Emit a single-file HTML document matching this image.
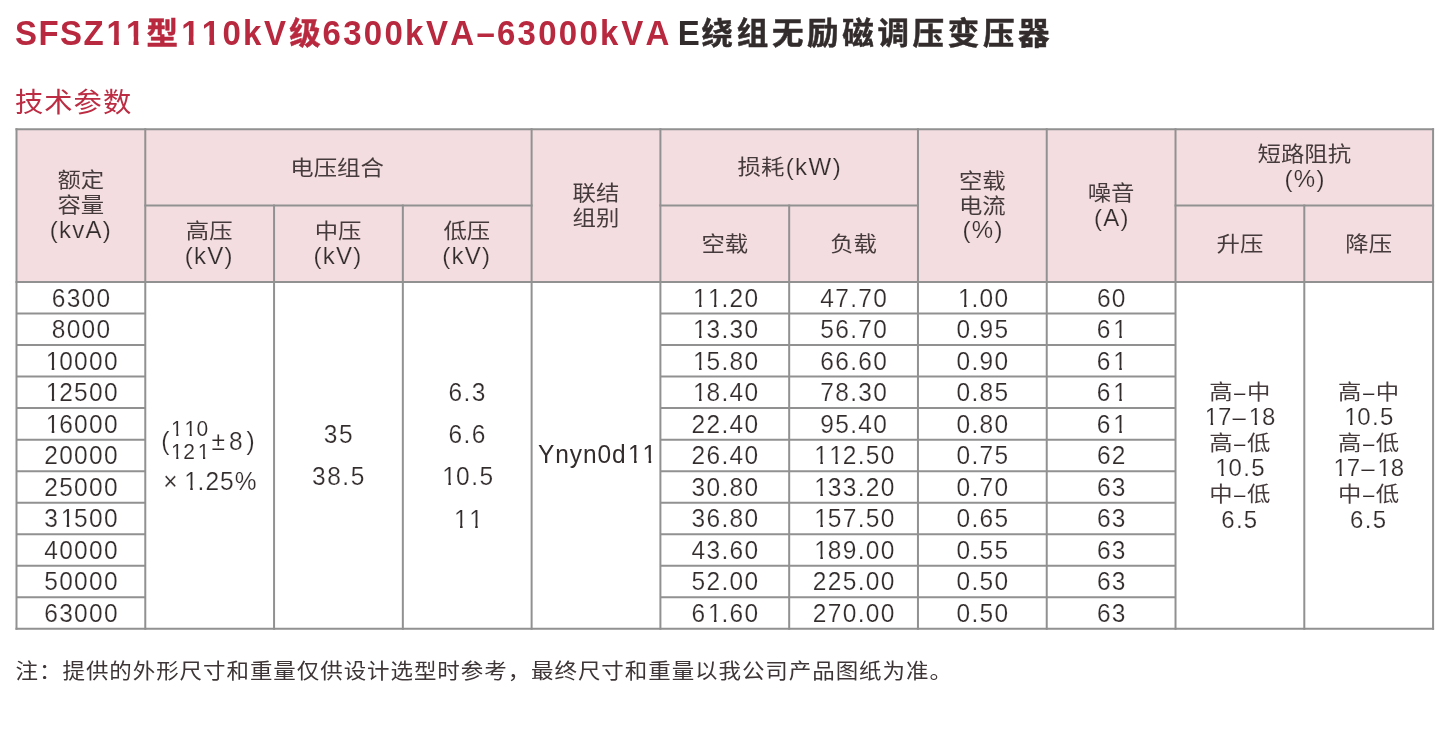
<!DOCTYPE html>
<html lang="zh-CN">
<head>
<meta charset="utf-8">
<title>SFSZ11型110kV级6300kVA–63000kVA E绕组无励磁调压变压器 技术参数</title>
<style>
*{margin:0;padding:0;box-sizing:border-box}
html,body{width:1452px;height:748px;background:#fff;overflow:hidden}
body{font-family:"Liberation Sans","Noto Sans CJK SC",sans-serif;color:#332c2d;-webkit-font-smoothing:antialiased;font-kerning:none;font-variant-ligatures:none}
#page{position:relative;width:1452px;height:748px;overflow:hidden;background:#fff}
.l,.z{display:inline-block;white-space:nowrap}
.ln{display:block;height:25px;line-height:25px;white-space:nowrap}
.title{position:absolute;left:16px;top:13px;white-space:nowrap;font-weight:700;font-size:33px;line-height:40px}
.title{color:#b8283e}
.title .l{transform:scaleY(1.06);transform-origin:50% 70%;position:relative;top:0.6px}
.title .z{font-size:31.5px;transform:scaleY(0.975);-webkit-text-stroke:0.5px currentColor}
.title .k{color:#332c2c}
.sub{position:absolute;left:15px;top:84.2px;white-space:nowrap;font-weight:400;font-size:28.3px;line-height:36px;color:#bc2c43;letter-spacing:1px}
.sub .z{transform:scaleY(0.975)}
.grid{position:absolute;left:0;top:0}
.tbl{position:absolute;left:0;top:0;width:1452px;height:748px}
.c{position:absolute;display:flex;align-items:center;justify-content:center;text-align:center;white-space:nowrap;font-weight:400;font-size:23.4px;line-height:25px}
.c .z{transform:scaleY(0.895);position:relative;top:0.8px;color:#463b3c}
.c .l{font-weight:400;font-size:24px;letter-spacing:1.3px;position:relative;top:-0.9px;transform:scaleY(1.02);transform-origin:50% 83%}
.c.he .z{top:-0.7px}
.c.ha .z{top:0.2px}
.c.hb .z{top:1.0px}
.c.hc .z{top:-0.2px}
.c.he .l{top:-1.0px;margin-left:1.3px;letter-spacing:1.45px}
.c.he>div{position:relative;left:0.7px}
.c.n .l,.c.m1 .l,.c.m2 .l,.c.m3 .l,.c.m4 .l{font-size:24.5px;letter-spacing:1.5px}
.c.n .l{letter-spacing:1.3px}
.note{position:absolute;left:15.6px;top:653.6px;white-space:nowrap;font-weight:400;font-size:22.5px;line-height:34px;letter-spacing:0.93px;color:#3d3536}
.fr{display:inline-flex;align-items:center}
.stk{display:inline-flex;flex-direction:column;position:relative;top:-2.3px;left:-1.6px;margin:0}
.c.m1 .stk .l{font-size:21px;letter-spacing:1.7px;line-height:23.5px;height:23.3px;display:block;transform:scaleY(1.05);top:0;-webkit-text-stroke:0.1px #fff}
.c.m1 .par{left:-0.5px}
.c.m1 .pm{left:0px;letter-spacing:3.9px}
.c.m1 .x125{top:3.3px;left:0.4px;letter-spacing:1.1px}
.c.m1 .x{margin-right:4px}
.c.m1>div{position:relative;left:0.5px}
.c.m2 .ln{height:42px;line-height:42px}
.c.m2 .l,.c.m3 .l,.c.m4 .l{top:1.1px;left:0.5px}
.c.m3 .ln{height:42.3px;line-height:42.3px}
.c.h .l{-webkit-text-stroke:0.2px #f3dde0}
.c.n .l,.c.m1 .l,.c.m2 .l,.c.m3 .l,.c.m4 .l,.c.m5 .l{-webkit-text-stroke:0.2px #fff}
.c.n .l{top:0.8px;left:0.7px}
.c.hg .l,.c.hj .l,.c.hi .l{left:0.8px}
.c.m4 .l{top:-1.1px;left:0.9px;letter-spacing:0.9px;-webkit-text-stroke:0}
.c.m5 .ln{height:25.55px;line-height:25.55px}
.c.m5 .z+.l{letter-spacing:0;margin:0 0.4px 0 0.6px}
.c.m5 .z+.l .d{display:inline-block;transform:scaleX(0.85)}
.c.m1 .ln{height:46px;line-height:46px}
.c.m1 .ln+.ln{height:26px;line-height:26px}
.c.m5 .z{top:0.3px}
.c.m5 .l{top:0.1px}
.note .z{transform:scaleY(0.93)}
.note .co{position:relative;top:1.4px}
.o{display:inline-block;line-height:1;clip-path:polygon(0 0,100% 0,100% 0.6em,0.35em 0.6em,0.35em 1.1em,0.245em 1.1em,0.245em 0.6em,0 0.6em)}
.title .o{clip-path:polygon(0 0,100% 0,100% 0.6em,0.38em 0.6em,0.38em 1.1em,0.225em 1.1em,0.225em 0.6em,0 0.6em)}
.c .o{position:relative;left:0.06em}

</style>
</head>
<body>
<div id="page">
<h1 class="title"><span class="l" style="margin-left:-0.90px;letter-spacing:1.4px">SFSZ</span><span class="l" style="margin-left:1.35px;letter-spacing:1.3px"><span class="o">1</span><span class="o">1</span></span><span class="z" style="margin-left:0.85px">型</span><span class="l" style="margin-left:3.16px;letter-spacing:2.25px"><span class="o">1</span><span class="o">1</span>0k</span><span class="l" style="margin-left:0.40px">V</span><span class="z" style="margin-left:3.20px">级</span><span class="l" style="margin-left:1.85px;letter-spacing:2.25px">6300k</span><span class="l" style="margin-left:0.45px;letter-spacing:2.25px">VA–</span><span class="l" style="margin-left:-0.00px;letter-spacing:2.25px">63000k</span><span class="l" style="margin-left:0.50px;letter-spacing:2.25px">VA</span><span class="l k" style="margin-left:6.25px">E</span><span class="z k" style="margin-left:1.80px;letter-spacing:3.67px">绕组无励磁调压变压器</span></h1>
<h2 class="sub"><span class="z">技术参数</span></h2>
<svg class="grid" width="1452" height="748" viewBox="0 0 1452 748" aria-hidden="true">
<rect x="16.5" y="129.2" width="1416.58" height="152.80" fill="#f3dde0"/>
<g stroke="#919191" stroke-width="2.0" stroke-linecap="square" fill="none">
<line x1="16.50" y1="129.20" x2="1433.08" y2="129.20"/>
<line x1="16.50" y1="628.80" x2="1433.08" y2="628.80"/>
<line x1="16.50" y1="282.00" x2="1433.08" y2="282.00"/>
<line x1="16.50" y1="129.20" x2="16.50" y2="628.80"/>
<line x1="145.28" y1="129.20" x2="145.28" y2="628.80"/>
<line x1="274.06" y1="205.60" x2="274.06" y2="628.80"/>
<line x1="402.84" y1="205.60" x2="402.84" y2="628.80"/>
<line x1="531.62" y1="129.20" x2="531.62" y2="628.80"/>
<line x1="660.40" y1="129.20" x2="660.40" y2="628.80"/>
<line x1="789.18" y1="205.60" x2="789.18" y2="628.80"/>
<line x1="917.96" y1="129.20" x2="917.96" y2="628.80"/>
<line x1="1046.74" y1="129.20" x2="1046.74" y2="628.80"/>
<line x1="1175.52" y1="129.20" x2="1175.52" y2="628.80"/>
<line x1="1304.30" y1="205.60" x2="1304.30" y2="628.80"/>
<line x1="1433.08" y1="129.20" x2="1433.08" y2="628.80"/>
<line x1="145.28" y1="205.60" x2="531.62" y2="205.60"/>
<line x1="660.40" y1="205.60" x2="917.96" y2="205.60"/>
<line x1="1175.52" y1="205.60" x2="1433.08" y2="205.60"/>
</g>
<g stroke="#919191" stroke-width="2.0" fill="none">
<line x1="16.50" y1="313.53" x2="145.28" y2="313.53"/>
<line x1="660.40" y1="313.53" x2="1175.52" y2="313.53"/>
<line x1="16.50" y1="345.05" x2="145.28" y2="345.05"/>
<line x1="660.40" y1="345.05" x2="1175.52" y2="345.05"/>
<line x1="16.50" y1="376.58" x2="145.28" y2="376.58"/>
<line x1="660.40" y1="376.58" x2="1175.52" y2="376.58"/>
<line x1="16.50" y1="408.11" x2="145.28" y2="408.11"/>
<line x1="660.40" y1="408.11" x2="1175.52" y2="408.11"/>
<line x1="16.50" y1="439.64" x2="145.28" y2="439.64"/>
<line x1="660.40" y1="439.64" x2="1175.52" y2="439.64"/>
<line x1="16.50" y1="471.16" x2="145.28" y2="471.16"/>
<line x1="660.40" y1="471.16" x2="1175.52" y2="471.16"/>
<line x1="16.50" y1="502.69" x2="145.28" y2="502.69"/>
<line x1="660.40" y1="502.69" x2="1175.52" y2="502.69"/>
<line x1="16.50" y1="534.22" x2="145.28" y2="534.22"/>
<line x1="660.40" y1="534.22" x2="1175.52" y2="534.22"/>
<line x1="16.50" y1="565.75" x2="145.28" y2="565.75"/>
<line x1="660.40" y1="565.75" x2="1175.52" y2="565.75"/>
<line x1="16.50" y1="597.27" x2="145.28" y2="597.27"/>
<line x1="660.40" y1="597.27" x2="1175.52" y2="597.27"/>
</g>
</svg>
<div class="tbl">
<div class="c h ha" style="left:16.50px;top:129.20px;width:128.78px;height:152.80px"><div><span class="ln"><span class="z">额定</span></span><span class="ln"><span class="z">容量</span></span><span class="ln"><span class="l">(kvA)</span></span></div></div>
<div class="c h hb" style="left:143.98px;top:129.20px;width:386.34px;height:76.40px"><div><span class="ln"><span class="z">电压组合</span></span></div></div>
<div class="c h hc" style="left:144.88px;top:205.60px;width:128.78px;height:76.40px"><div><span class="ln"><span class="z">高压</span></span><span class="ln"><span class="l">(kV)</span></span></div></div>
<div class="c h hc" style="left:273.66px;top:205.60px;width:128.78px;height:76.40px"><div><span class="ln"><span class="z">中压</span></span><span class="ln"><span class="l">(kV)</span></span></div></div>
<div class="c h hc" style="left:402.44px;top:205.60px;width:128.78px;height:76.40px"><div><span class="ln"><span class="z">低压</span></span><span class="ln"><span class="l">(kV)</span></span></div></div>
<div class="c h hd" style="left:531.62px;top:129.20px;width:128.78px;height:152.80px"><div><span class="ln"><span class="z">联结</span></span><span class="ln"><span class="z">组别</span></span></div></div>
<div class="c h he" style="left:660.40px;top:129.20px;width:257.56px;height:76.40px"><div><span class="ln"><span class="z">损耗</span><span class="l">(kW)</span></span></div></div>
<div class="c h hf" style="left:660.40px;top:205.60px;width:128.78px;height:76.40px"><div><span class="ln"><span class="z">空载</span></span></div></div>
<div class="c h hf" style="left:789.18px;top:205.60px;width:128.78px;height:76.40px"><div><span class="ln"><span class="z">负载</span></span></div></div>
<div class="c h hg" style="left:917.96px;top:129.20px;width:128.78px;height:152.80px"><div><span class="ln"><span class="z">空载</span></span><span class="ln"><span class="z">电流</span></span><span class="ln"><span class="l">(%)</span></span></div></div>
<div class="c h hi" style="left:1046.74px;top:129.20px;width:128.78px;height:152.80px"><div><span class="ln"><span class="z">噪音</span></span><span class="ln"><span class="l">(A)</span></span></div></div>
<div class="c h hj" style="left:1175.52px;top:128.40px;width:257.56px;height:76.40px"><div><span class="ln"><span class="z">短路阻抗</span></span><span class="ln"><span class="l">(%)</span></span></div></div>
<div class="c h hf" style="left:1175.52px;top:205.60px;width:128.78px;height:76.40px"><div><span class="ln"><span class="z">升压</span></span></div></div>
<div class="c h hf" style="left:1304.30px;top:205.60px;width:128.78px;height:76.40px"><div><span class="ln"><span class="z">降压</span></span></div></div>
<div class="c n" style="left:16.50px;top:282.00px;width:128.78px;height:31.53px"><div><span class="l">6300</span></div></div>
<div class="c n" style="left:660.40px;top:282.00px;width:128.78px;height:31.53px"><div><span class="l"><span class="o">1</span><span class="o">1</span>.20</span></div></div>
<div class="c n" style="left:789.18px;top:282.00px;width:128.78px;height:31.53px"><div><span class="l">47.70</span></div></div>
<div class="c n" style="left:917.96px;top:282.00px;width:128.78px;height:31.53px"><div><span class="l"><span class="o">1</span>.00</span></div></div>
<div class="c n" style="left:1046.74px;top:282.00px;width:128.78px;height:31.53px"><div><span class="l">60</span></div></div>
<div class="c n" style="left:16.50px;top:313.53px;width:128.78px;height:31.53px"><div><span class="l">8000</span></div></div>
<div class="c n" style="left:660.40px;top:313.53px;width:128.78px;height:31.53px"><div><span class="l"><span class="o">1</span>3.30</span></div></div>
<div class="c n" style="left:789.18px;top:313.53px;width:128.78px;height:31.53px"><div><span class="l">56.70</span></div></div>
<div class="c n" style="left:917.96px;top:313.53px;width:128.78px;height:31.53px"><div><span class="l">0.95</span></div></div>
<div class="c n" style="left:1046.74px;top:313.53px;width:128.78px;height:31.53px"><div><span class="l">6<span class="o">1</span></span></div></div>
<div class="c n" style="left:16.50px;top:345.05px;width:128.78px;height:31.53px"><div><span class="l"><span class="o">1</span>0000</span></div></div>
<div class="c n" style="left:660.40px;top:345.05px;width:128.78px;height:31.53px"><div><span class="l"><span class="o">1</span>5.80</span></div></div>
<div class="c n" style="left:789.18px;top:345.05px;width:128.78px;height:31.53px"><div><span class="l">66.60</span></div></div>
<div class="c n" style="left:917.96px;top:345.05px;width:128.78px;height:31.53px"><div><span class="l">0.90</span></div></div>
<div class="c n" style="left:1046.74px;top:345.05px;width:128.78px;height:31.53px"><div><span class="l">6<span class="o">1</span></span></div></div>
<div class="c n" style="left:16.50px;top:376.58px;width:128.78px;height:31.53px"><div><span class="l"><span class="o">1</span>2500</span></div></div>
<div class="c n" style="left:660.40px;top:376.58px;width:128.78px;height:31.53px"><div><span class="l"><span class="o">1</span>8.40</span></div></div>
<div class="c n" style="left:789.18px;top:376.58px;width:128.78px;height:31.53px"><div><span class="l">78.30</span></div></div>
<div class="c n" style="left:917.96px;top:376.58px;width:128.78px;height:31.53px"><div><span class="l">0.85</span></div></div>
<div class="c n" style="left:1046.74px;top:376.58px;width:128.78px;height:31.53px"><div><span class="l">6<span class="o">1</span></span></div></div>
<div class="c n" style="left:16.50px;top:408.11px;width:128.78px;height:31.53px"><div><span class="l"><span class="o">1</span>6000</span></div></div>
<div class="c n" style="left:660.40px;top:408.11px;width:128.78px;height:31.53px"><div><span class="l">22.40</span></div></div>
<div class="c n" style="left:789.18px;top:408.11px;width:128.78px;height:31.53px"><div><span class="l">95.40</span></div></div>
<div class="c n" style="left:917.96px;top:408.11px;width:128.78px;height:31.53px"><div><span class="l">0.80</span></div></div>
<div class="c n" style="left:1046.74px;top:408.11px;width:128.78px;height:31.53px"><div><span class="l">6<span class="o">1</span></span></div></div>
<div class="c n" style="left:16.50px;top:439.64px;width:128.78px;height:31.53px"><div><span class="l">20000</span></div></div>
<div class="c n" style="left:660.40px;top:439.64px;width:128.78px;height:31.53px"><div><span class="l">26.40</span></div></div>
<div class="c n" style="left:789.18px;top:439.64px;width:128.78px;height:31.53px"><div><span class="l"><span class="o">1</span><span class="o">1</span>2.50</span></div></div>
<div class="c n" style="left:917.96px;top:439.64px;width:128.78px;height:31.53px"><div><span class="l">0.75</span></div></div>
<div class="c n" style="left:1046.74px;top:439.64px;width:128.78px;height:31.53px"><div><span class="l">62</span></div></div>
<div class="c n" style="left:16.50px;top:471.16px;width:128.78px;height:31.53px"><div><span class="l">25000</span></div></div>
<div class="c n" style="left:660.40px;top:471.16px;width:128.78px;height:31.53px"><div><span class="l">30.80</span></div></div>
<div class="c n" style="left:789.18px;top:471.16px;width:128.78px;height:31.53px"><div><span class="l"><span class="o">1</span>33.20</span></div></div>
<div class="c n" style="left:917.96px;top:471.16px;width:128.78px;height:31.53px"><div><span class="l">0.70</span></div></div>
<div class="c n" style="left:1046.74px;top:471.16px;width:128.78px;height:31.53px"><div><span class="l">63</span></div></div>
<div class="c n" style="left:16.50px;top:502.69px;width:128.78px;height:31.53px"><div><span class="l">3<span class="o">1</span>500</span></div></div>
<div class="c n" style="left:660.40px;top:502.69px;width:128.78px;height:31.53px"><div><span class="l">36.80</span></div></div>
<div class="c n" style="left:789.18px;top:502.69px;width:128.78px;height:31.53px"><div><span class="l"><span class="o">1</span>57.50</span></div></div>
<div class="c n" style="left:917.96px;top:502.69px;width:128.78px;height:31.53px"><div><span class="l">0.65</span></div></div>
<div class="c n" style="left:1046.74px;top:502.69px;width:128.78px;height:31.53px"><div><span class="l">63</span></div></div>
<div class="c n" style="left:16.50px;top:534.22px;width:128.78px;height:31.53px"><div><span class="l">40000</span></div></div>
<div class="c n" style="left:660.40px;top:534.22px;width:128.78px;height:31.53px"><div><span class="l">43.60</span></div></div>
<div class="c n" style="left:789.18px;top:534.22px;width:128.78px;height:31.53px"><div><span class="l"><span class="o">1</span>89.00</span></div></div>
<div class="c n" style="left:917.96px;top:534.22px;width:128.78px;height:31.53px"><div><span class="l">0.55</span></div></div>
<div class="c n" style="left:1046.74px;top:534.22px;width:128.78px;height:31.53px"><div><span class="l">63</span></div></div>
<div class="c n" style="left:16.50px;top:565.75px;width:128.78px;height:31.53px"><div><span class="l">50000</span></div></div>
<div class="c n" style="left:660.40px;top:565.75px;width:128.78px;height:31.53px"><div><span class="l">52.00</span></div></div>
<div class="c n" style="left:789.18px;top:565.75px;width:128.78px;height:31.53px"><div><span class="l">225.00</span></div></div>
<div class="c n" style="left:917.96px;top:565.75px;width:128.78px;height:31.53px"><div><span class="l">0.50</span></div></div>
<div class="c n" style="left:1046.74px;top:565.75px;width:128.78px;height:31.53px"><div><span class="l">63</span></div></div>
<div class="c n" style="left:16.50px;top:597.27px;width:128.78px;height:31.53px"><div><span class="l">63000</span></div></div>
<div class="c n" style="left:660.40px;top:597.27px;width:128.78px;height:31.53px"><div><span class="l">6<span class="o">1</span>.60</span></div></div>
<div class="c n" style="left:789.18px;top:597.27px;width:128.78px;height:31.53px"><div><span class="l">270.00</span></div></div>
<div class="c n" style="left:917.96px;top:597.27px;width:128.78px;height:31.53px"><div><span class="l">0.50</span></div></div>
<div class="c n" style="left:1046.74px;top:597.27px;width:128.78px;height:31.53px"><div><span class="l">63</span></div></div>
<div class="c m1" style="left:145.28px;top:282.00px;width:128.78px;height:346.80px"><div><span class="ln"><span class="fr"><span class="l par">(</span><span class="stk"><span class="l"><span class="o">1</span><span class="o">1</span>0</span><span class="l"><span class="o">1</span>2<span class="o">1</span></span></span><span class="l pm">±8)</span></span></span><span class="ln"><span class="l x125"><span class="x">×</span><span class="o">1</span>.25%</span></span></div></div>
<div class="c m2" style="left:274.06px;top:282.00px;width:128.78px;height:346.80px"><div><span class="ln"><span class="l">35</span></span><span class="ln"><span class="l">38.5</span></span></div></div>
<div class="c m3" style="left:402.84px;top:282.00px;width:128.78px;height:346.80px"><div><span class="ln"><span class="l">6.3</span></span><span class="ln"><span class="l">6.6</span></span><span class="ln"><span class="l"><span class="o">1</span>0.5</span></span><span class="ln"><span class="l"><span class="o">1</span><span class="o">1</span></span></span></div></div>
<div class="c m4" style="left:531.62px;top:282.00px;width:128.78px;height:346.80px"><div><span class="ln"><span class="l">Ynyn0d<span class="o">1</span><span class="o">1</span></span></span></div></div>
<div class="c m5" style="left:1175.52px;top:282.00px;width:128.78px;height:346.80px"><div><span class="ln"><span class="z">高</span><span class="l"><span class="d">–</span></span><span class="z">中</span></span><span class="ln"><span class="l"><span class="o">1</span>7<span class="d">–</span><span class="o">1</span>8</span></span><span class="ln"><span class="z">高</span><span class="l"><span class="d">–</span></span><span class="z">低</span></span><span class="ln"><span class="l"><span class="o">1</span>0.5</span></span><span class="ln"><span class="z">中</span><span class="l"><span class="d">–</span></span><span class="z">低</span></span><span class="ln"><span class="l">6.5</span></span></div></div>
<div class="c m5" style="left:1304.30px;top:282.00px;width:128.78px;height:346.80px"><div><span class="ln"><span class="z">高</span><span class="l"><span class="d">–</span></span><span class="z">中</span></span><span class="ln"><span class="l"><span class="o">1</span>0.5</span></span><span class="ln"><span class="z">高</span><span class="l"><span class="d">–</span></span><span class="z">低</span></span><span class="ln"><span class="l"><span class="o">1</span>7<span class="d">–</span><span class="o">1</span>8</span></span><span class="ln"><span class="z">中</span><span class="l"><span class="d">–</span></span><span class="z">低</span></span><span class="ln"><span class="l">6.5</span></span></div></div>
</div>
<p class="note"><span class="z">注<span class="co">：</span>提供的外形尺寸和重量仅供设计选型时参考，最终尺寸和重量以我公司产品图纸为准。</span></p>
</div>
</body>
</html>
